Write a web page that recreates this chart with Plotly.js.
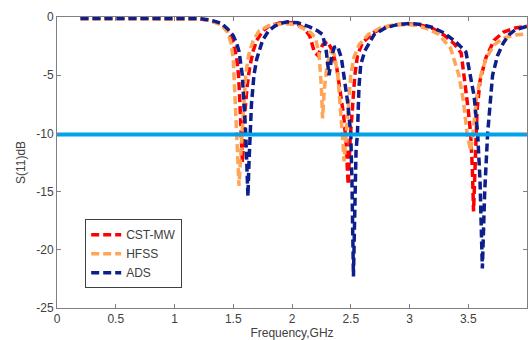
<!DOCTYPE html>
<html>
<head>
<meta charset="utf-8">
<script src="https://cdn.plot.ly/plotly-3.0.1.min.js"></script>
<style>html,body{margin:0;padding:0;background:#fff;}#chart{width:530px;height:340px;}</style>
</head>
<body>
<div id="chart"></div>
<script>
// CST-MW (red)
var cstFreq = [0.2,0.4,0.6,0.8,1.0,1.2,1.3,1.4,1.45,1.5,1.53,1.545,1.555,1.565,1.578,1.59,1.6,1.62,1.64,1.67,1.7,1.75,1.8,1.9,2.0,2.05,2.1,2.15,2.19,2.22,2.26,2.3,2.34,2.38,2.41,2.44,2.46,2.478,2.495,2.515,2.535,2.557,2.6,2.7,2.8,2.9,3.0,3.1,3.2,3.3,3.38,3.44,3.465,3.5,3.52,3.535,3.545,3.56,3.575,3.6,3.65,3.72,3.8,3.9,4.0];
var cstS11 = [-0.12,-0.12,-0.12,-0.12,-0.12,-0.15,-0.3,-0.6,-1.1,-2.2,-3.6,-5.0,-7.0,-10,-12.5,-10,-8,-5.8,-4.3,-2.9,-2.0,-1.2,-0.8,-0.5,-0.5,-0.65,-0.95,-1.6,-3.0,-3.3,-2.4,-2.1,-2.8,-4.3,-6.3,-8.5,-10.8,-14.4,-10.5,-7.2,-5.0,-3.3,-2.2,-1.3,-0.85,-0.65,-0.6,-0.7,-1.0,-1.6,-2.3,-3.1,-5.0,-8.0,-10,-13,-16.7,-11.5,-8,-5.5,-3.5,-2.0,-1.3,-0.95,-0.8];

// HFSS (orange)
var hfssFreq = [0.2,0.4,0.6,0.8,1.0,1.2,1.3,1.4,1.45,1.48,1.5,1.506,1.52,1.529,1.549,1.56,1.577,1.59,1.606,1.63,1.67,1.72,1.8,1.9,2.0,2.05,2.1,2.16,2.2,2.23,2.25,2.26,2.275,2.3,2.33,2.36,2.39,2.41,2.43,2.443,2.46,2.48,2.5,2.526,2.57,2.65,2.75,2.85,2.95,3.05,3.15,3.25,3.35,3.42,3.46,3.49,3.52,3.54,3.57,3.607,3.65,3.72,3.8,3.9,4.0];
var hfssS11 = [-0.12,-0.12,-0.12,-0.12,-0.12,-0.15,-0.3,-0.7,-1.3,-2.2,-3.6,-5,-7.5,-10,-14.5,-12.5,-10,-7,-5,-3.3,-2.0,-1.2,-0.75,-0.6,-0.6,-0.75,-1.0,-1.35,-1.8,-3.2,-6,-8.7,-6.2,-4.0,-3.0,-3.2,-5,-7.3,-10.3,-12.4,-10,-7,-5,-3.5,-2.4,-1.5,-0.95,-0.7,-0.65,-0.7,-1.0,-1.5,-2.7,-5.0,-7.3,-10,-11.5,-10,-7.0,-5.0,-3.6,-2.4,-1.8,-1.55,-1.45];

// ADS (navy)
var adsFreq = [0.2,0.4,0.6,0.8,1.0,1.2,1.3,1.4,1.45,1.5,1.53,1.55,1.577,1.595,1.606,1.615,1.625,1.634,1.642,1.655,1.676,1.7,1.75,1.8,1.85,1.9,1.96,2.05,2.15,2.22,2.26,2.29,2.315,2.34,2.36,2.387,2.42,2.45,2.472,2.5,2.51,2.523,2.535,2.545,2.557,2.57,2.585,2.62,2.7,2.8,2.9,3.0,3.1,3.2,3.3,3.4,3.48,3.52,3.55,3.58,3.6,3.62,3.64,3.665,3.69,3.707,3.75,3.8,3.85,3.9,4.0];
var adsS11 = [-0.12,-0.12,-0.12,-0.12,-0.12,-0.12,-0.25,-0.55,-1.0,-1.6,-2.3,-3.0,-5,-7.5,-10,-12.5,-15.4,-12.5,-10,-7.5,-5,-3.6,-2.0,-1.2,-0.8,-0.55,-0.42,-0.5,-0.85,-1.2,-1.5,-2.8,-5.0,-3.3,-2.6,-2.5,-3.5,-5.5,-7.2,-10,-14,-22.3,-15,-11.5,-10,-6,-4.1,-2.9,-1.5,-0.9,-0.65,-0.55,-0.65,-0.9,-1.4,-2.2,-3.0,-5.0,-6.8,-10,-14,-21.6,-15,-10,-7,-5,-3.3,-2.2,-1.5,-1.1,-0.8];

// -10 dB reference line
var thresholdFreq = [0, 4];
var thresholdLevel = [-10.1, -10.1];

var xTicks = [0, 0.5, 1, 1.5, 2, 2.5, 3, 3.5, 4];
var xTickText = ['0', '0.5', '1', '1.5', '2', '2.5', '3', '3.5', '4'];
var yTicks = [0, -5, -10, -15, -20, -25];
var yTickText = ['0', '-5', '-10', '-15', '-20', '-25'];

var dashPat = '8px,4px';
var traces = [
  {x: cstFreq, y: cstS11, name: 'CST-MW', mode: 'lines', line: {color: '#ff0000', width: 3.5, dash: dashPat}},
  {x: hfssFreq, y: hfssS11, name: 'HFSS', mode: 'lines', line: {color: '#ffa555', width: 3.5, dash: dashPat}},
  {x: adsFreq, y: adsS11, name: 'ADS', mode: 'lines', line: {color: '#0c1f8a', width: 3.5, dash: dashPat}},
  {x: thresholdFreq, y: thresholdLevel, mode: 'lines', showlegend: false, line: {color: '#00a2e8', width: 4}}
];

var fontFam = 'Liberation Sans, Arial, sans-serif';
var layout = {
  width: 530, height: 340,
  margin: {l: 57, r: 3, t: 17, b: 32},
  paper_bgcolor: '#ffffff', plot_bgcolor: '#ffffff',
  font: {family: fontFam, size: 12, color: '#404040'},
  showlegend: true,
  legend: {x: 0.06, y: 0.305, xanchor: 'left', yanchor: 'top', bgcolor: '#ffffff', bordercolor: '#404040', borderwidth: 1, font: {size: 12, color: '#404040'}},
  xaxis: {
    range: [0, 4], tickvals: xTicks, ticktext: xTickText,
    showgrid: false, zeroline: false, showline: true, linecolor: '#808080', linewidth: 1,
    mirror: 'ticks', ticks: 'inside', ticklen: 4, tickcolor: '#808080',
    tickfont: {size: 12, color: '#404040'},
    title: {text: 'Frequency,GHz', font: {size: 12, color: '#404040'}, standoff: 4}
  },
  yaxis: {
    range: [-25, 0], tickvals: yTicks, ticktext: yTickText,
    showgrid: false, zeroline: false, showline: true, linecolor: '#808080', linewidth: 1,
    mirror: 'ticks', ticks: 'inside', ticklen: 4, tickcolor: '#808080',
    tickfont: {size: 12, color: '#404040'},
    title: {text: 'S(11)dB', font: {size: 12, color: '#404040'}, standoff: 8}
  }
};

Plotly.newPlot('chart', traces, layout, {displayModeBar: false, staticPlot: true});
</script>
</body>
</html>
